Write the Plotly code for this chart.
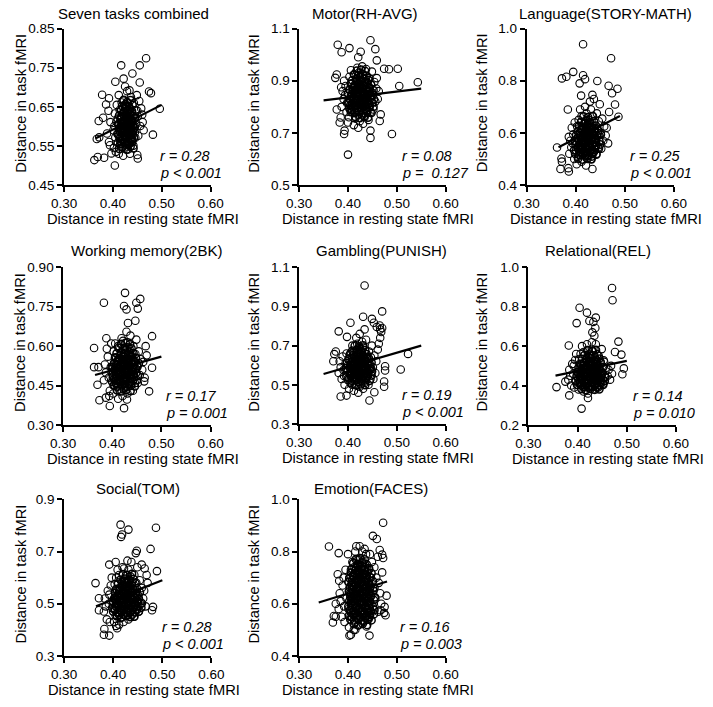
import plotly.graph_objects as go

W, H = 713, 707

titles = ["Seven tasks combined", "Motor(RH-AVG)", "Language(STORY-MATH)",
          "Working memory(2BK)", "Gambling(PUNISH)", "Relational(REL)",
          "Social(TOM)", "Emotion(FACES)"]
r_text = ["r = 0.28", "r = 0.08", "r = 0.25", "r = 0.17", "r = 0.19", "r = 0.14", "r = 0.28", "r = 0.16"]
p_text = ["p < 0.001", "p =\u00a0 0.127", "p < 0.001", "p = 0.001", "p < 0.001", "p = 0.010", "p < 0.001", "p = 0.003"]

x_ticks = [0.30, 0.40, 0.50, 0.60]
y_ticks = [
    [0.45, 0.55, 0.65, 0.75, 0.85],
    [0.5, 0.7, 0.9, 1.1],
    [0.4, 0.6, 0.8, 1.0],
    [0.30, 0.45, 0.60, 0.75, 0.90],
    [0.3, 0.5, 0.7, 0.9, 1.1],
    [0.2, 0.4, 0.6, 0.8, 1.0],
    [0.3, 0.5, 0.7, 0.9],
    [0.4, 0.6, 0.8, 1.0],
]
y_fmt = [".2f", ".1f", ".1f", ".2f", ".1f", ".1f", ".1f", ".1f"]

seven_pts = [
    (0.417,0.756),(0.468,0.774),(0.455,0.756),(0.440,0.735),(0.405,0.714),(0.422,0.722),(0.455,0.712),
    (0.378,0.681),(0.474,0.689),(0.478,0.685),(0.496,0.645),(0.482,0.579),(0.362,0.514),(0.369,0.522),
    (0.382,0.520),(0.404,0.500),(0.451,0.518),(0.450,0.527),(0.371,0.614),(0.380,0.622),(0.372,0.572),
    (0.367,0.568),(0.386,0.656),(0.392,0.672),
    (0.402,0.545),(0.405,0.572),(0.401,0.590),(0.407,0.612),(0.404,0.633),(0.408,0.655),(0.403,0.601),(0.409,0.581),(0.406,0.535),
    (0.412,0.530),(0.415,0.556),(0.413,0.575),(0.417,0.591),(0.411,0.606),(0.416,0.621),(0.414,0.642),(0.418,0.661),(0.412,0.680),(0.419,0.566),(0.414,0.598),
    (0.421,0.525),(0.424,0.546),(0.422,0.561),(0.427,0.578),(0.425,0.593),(0.421,0.608),(0.428,0.623),(0.423,0.637),(0.426,0.652),(0.422,0.668),(0.429,0.690),(0.425,0.702),(0.428,0.585),(0.424,0.615),
    (0.431,0.541),(0.434,0.556),(0.437,0.571),(0.432,0.586),(0.436,0.600),(0.433,0.613),(0.438,0.628),(0.435,0.645),(0.431,0.660),(0.437,0.675),(0.434,0.692),(0.439,0.565),(0.432,0.620),
    (0.442,0.551),(0.446,0.571),(0.441,0.590),(0.448,0.606),(0.444,0.622),(0.447,0.641),(0.443,0.660),(0.449,0.680),(0.445,0.600),
    (0.452,0.576),(0.456,0.601),(0.451,0.626),(0.458,0.646),(0.454,0.665),(0.461,0.611),(0.463,0.590),
    (0.392,0.560),(0.388,0.582),(0.395,0.611),(0.391,0.640),(0.397,0.531),(0.394,0.552),
    (0.426,0.600),(0.430,0.605),(0.420,0.585),(0.433,0.597),(0.427,0.570),(0.418,0.612),(0.440,0.612),(0.436,0.585),
    (0.423,0.628),(0.430,0.640),(0.419,0.548),(0.445,0.585),(0.410,0.620),(0.435,0.530),(0.450,0.640),(0.460,0.630),
]
seven_core = [
    (0.413,0.543),(0.420,0.547),(0.428,0.541),(0.436,0.549),(0.442,0.544),
    (0.410,0.558),(0.418,0.555),(0.425,0.559),(0.432,0.553),(0.439,0.560),
    (0.414,0.570),(0.421,0.567),(0.429,0.572),(0.436,0.566),(0.443,0.571),
    (0.411,0.580),(0.419,0.584),(0.426,0.579),(0.433,0.583),(0.440,0.578),
    (0.415,0.594),(0.422,0.590),(0.430,0.595),(0.437,0.591),(0.444,0.596),
    (0.412,0.604),(0.419,0.608),(0.427,0.603),(0.434,0.607),(0.441,0.602),
    (0.416,0.618),(0.423,0.614),(0.431,0.619),(0.438,0.615),(0.445,0.620),
    (0.413,0.628),(0.420,0.632),(0.428,0.627),(0.435,0.631),(0.442,0.626),
    (0.417,0.642),(0.424,0.638),(0.432,0.643),(0.439,0.639),
    (0.419,0.652),(0.426,0.656),(0.433,0.651),(0.440,0.655),
    (0.422,0.666),(0.429,0.662),(0.436,0.667),
    (0.416,0.562),(0.424,0.566),(0.432,0.561),(0.439,0.565),
    (0.418,0.575),(0.426,0.574),(0.434,0.577),(0.441,0.586),
    (0.415,0.587),(0.423,0.586),(0.431,0.589),(0.438,0.598),
    (0.417,0.600),(0.425,0.599),(0.433,0.602),(0.421,0.611),
    (0.429,0.612),(0.437,0.610),(0.418,0.624),(0.426,0.622),
    (0.434,0.625),(0.422,0.636),(0.430,0.634),(0.438,0.636),
    (0.425,0.646),(0.433,0.648),(0.428,0.556),(0.420,0.597),
]

motor_pts = [
    (0.400,0.617),(0.490,0.696),(0.446,0.681),(0.446,0.709),(0.392,0.696),(0.393,0.709),(0.379,1.038),
    (0.403,1.025),(0.387,1.009),(0.426,1.011),(0.446,1.055),(0.456,1.021),(0.459,0.978),(0.502,0.946),
    (0.543,0.894),(0.505,0.880),(0.377,0.924),(0.374,0.911),(0.377,0.790),(0.385,0.759),(0.383,0.740),
    (0.467,0.771),(0.465,0.746),(0.474,0.946),(0.484,0.944),(0.421,0.990),
    (0.387,0.80),(0.391,0.83),(0.389,0.86),(0.395,0.88),(0.392,0.90),(0.397,0.78),(0.394,0.845),(0.398,0.815),(0.386,0.875),
    (0.402,0.76),(0.405,0.79),(0.401,0.82),(0.407,0.84),(0.404,0.865),(0.408,0.89),(0.403,0.915),(0.406,0.94),(0.409,0.80),(0.400,0.74),
    (0.412,0.73),(0.415,0.755),(0.413,0.78),(0.417,0.805),(0.411,0.83),(0.416,0.85),(0.414,0.875),(0.418,0.90),(0.412,0.925),(0.419,0.95),(0.415,0.815),(0.417,0.865),
    (0.421,0.72),(0.424,0.745),(0.422,0.77),(0.427,0.795),(0.425,0.82),(0.421,0.84),(0.428,0.86),(0.423,0.88),(0.426,0.905),(0.422,0.93),(0.429,0.955),(0.425,0.85),(0.428,0.83),(0.424,0.87),
    (0.431,0.735),(0.434,0.76),(0.437,0.785),(0.432,0.81),(0.436,0.835),(0.433,0.855),(0.438,0.875),(0.435,0.895),(0.431,0.92),(0.437,0.945),(0.434,0.845),(0.439,0.82),
    (0.442,0.75),(0.446,0.78),(0.441,0.81),(0.448,0.835),(0.444,0.86),(0.447,0.885),(0.443,0.91),(0.449,0.935),(0.445,0.85),
    (0.452,0.79),(0.456,0.82),(0.451,0.845),(0.458,0.87),(0.454,0.895),(0.461,0.83),(0.463,0.86),(0.459,0.91),
]
motor_core = [
    (0.415,0.762),(0.424,0.757),(0.433,0.764),(0.441,0.759),
    (0.406,0.780),(0.414,0.776),(0.423,0.781),(0.431,0.775),(0.439,0.779),(0.448,0.777),
    (0.403,0.794),(0.411,0.799),(0.419,0.795),(0.428,0.798),(0.436,0.793),(0.444,0.797),(0.452,0.800),
    (0.401,0.815),(0.409,0.812),(0.417,0.816),(0.426,0.811),(0.434,0.817),(0.442,0.813),(0.450,0.816),
    (0.404,0.830),(0.412,0.834),(0.420,0.829),(0.429,0.835),(0.437,0.831),(0.445,0.833),(0.453,0.829),
    (0.400,0.851),(0.408,0.848),(0.416,0.853),(0.425,0.847),(0.433,0.852),(0.441,0.849),(0.449,0.854),
    (0.403,0.866),(0.411,0.870),(0.419,0.865),(0.428,0.871),(0.436,0.867),(0.444,0.869),(0.452,0.864),
    (0.406,0.887),(0.414,0.884),(0.422,0.889),(0.431,0.883),(0.439,0.888),(0.447,0.885),
    (0.409,0.902),(0.417,0.906),(0.425,0.901),(0.434,0.907),(0.442,0.903),
    (0.413,0.923),(0.421,0.920),(0.430,0.925),(0.438,0.919),
    (0.418,0.938),(0.427,0.942),(0.435,0.937),
    (0.408,0.788),(0.418,0.786),(0.428,0.789),(0.438,0.786),
    (0.405,0.806),(0.415,0.805),(0.425,0.807),(0.435,0.804),(0.444,0.806),
    (0.410,0.823),(0.420,0.824),(0.430,0.822),(0.440,0.825),
    (0.406,0.841),(0.416,0.840),(0.426,0.842),(0.436,0.840),(0.446,0.842),
    (0.410,0.859),(0.420,0.858),(0.430,0.860),(0.440,0.858),
    (0.413,0.877),(0.423,0.876),(0.433,0.878),(0.443,0.876),
    (0.418,0.895),(0.428,0.894),(0.438,0.896),(0.424,0.912),
]

language_pts = [
    (0.415,0.940),(0.472,0.886),(0.395,0.834),(0.372,0.809),(0.381,0.815),(0.415,0.821),(0.419,0.806),
    (0.408,0.790),(0.444,0.799),(0.467,0.781),(0.485,0.769),(0.434,0.746),(0.411,0.743),(0.474,0.752),
    (0.480,0.709),(0.384,0.690),(0.487,0.662),(0.369,0.462),(0.386,0.452),(0.385,0.465),(0.434,0.462),
    (0.362,0.544),(0.371,0.502),(0.372,0.490),
    (0.387,0.52),(0.391,0.545),(0.389,0.57),(0.395,0.595),(0.392,0.62),(0.397,0.50),(0.394,0.56),(0.398,0.64),(0.386,0.585),
    (0.402,0.48),(0.405,0.51),(0.401,0.535),(0.407,0.555),(0.404,0.58),(0.408,0.60),(0.403,0.625),(0.406,0.65),(0.409,0.69),(0.400,0.565),
    (0.412,0.49),(0.415,0.515),(0.413,0.54),(0.417,0.56),(0.411,0.575),(0.416,0.595),(0.414,0.615),(0.418,0.64),(0.412,0.665),(0.419,0.70),(0.415,0.585),(0.417,0.53),
    (0.421,0.475),(0.424,0.50),(0.422,0.525),(0.427,0.545),(0.425,0.565),(0.421,0.585),(0.428,0.605),(0.423,0.625),(0.426,0.65),(0.422,0.675),(0.429,0.72),(0.425,0.59),(0.428,0.555),(0.424,0.61),
    (0.431,0.50),(0.434,0.525),(0.437,0.55),(0.432,0.57),(0.436,0.595),(0.433,0.615),(0.438,0.64),(0.435,0.665),(0.431,0.69),(0.437,0.73),(0.434,0.58),(0.439,0.605),
    (0.442,0.52),(0.446,0.545),(0.441,0.565),(0.448,0.59),(0.444,0.615),(0.447,0.645),(0.443,0.675),(0.449,0.71),(0.445,0.60),
    (0.452,0.54),(0.456,0.57),(0.451,0.60),(0.458,0.625),(0.454,0.655),(0.461,0.59),(0.463,0.62),(0.466,0.56),(0.468,0.68),
]
language_core = [
    (0.405,0.502),(0.414,0.498),(0.423,0.503),(0.432,0.499),
    (0.399,0.520),(0.407,0.516),(0.416,0.521),(0.425,0.515),(0.434,0.519),(0.442,0.517),
    (0.397,0.534),(0.405,0.539),(0.413,0.535),(0.422,0.538),(0.431,0.533),(0.439,0.537),(0.447,0.540),
    (0.400,0.555),(0.408,0.552),(0.417,0.556),(0.426,0.551),(0.434,0.557),(0.442,0.553),(0.450,0.556),
    (0.398,0.570),(0.406,0.574),(0.415,0.569),(0.424,0.575),(0.432,0.571),(0.440,0.573),(0.448,0.569),
    (0.401,0.591),(0.409,0.588),(0.418,0.593),(0.427,0.587),(0.435,0.592),(0.443,0.589),(0.451,0.594),
    (0.404,0.606),(0.412,0.610),(0.421,0.605),(0.430,0.611),(0.438,0.607),(0.446,0.609),
    (0.407,0.627),(0.415,0.624),(0.424,0.629),(0.433,0.623),(0.441,0.628),
    (0.411,0.642),(0.420,0.646),(0.429,0.641),(0.437,0.645),
    (0.416,0.663),(0.425,0.660),(0.434,0.664),
    (0.408,0.527),(0.418,0.528),(0.428,0.526),(0.437,0.528),
    (0.404,0.546),(0.412,0.545),(0.421,0.547),(0.430,0.545),(0.440,0.546),
    (0.410,0.563),(0.419,0.564),(0.428,0.562),(0.437,0.564),
    (0.404,0.581),(0.413,0.580),(0.422,0.582),(0.431,0.580),(0.440,0.581),
    (0.408,0.599),(0.417,0.598),(0.426,0.600),(0.435,0.598),
    (0.412,0.617),(0.421,0.616),(0.430,0.618),(0.438,0.616),
    (0.418,0.634),(0.427,0.635),(0.423,0.512),(0.433,0.510),
]

wm_pts = [
    (0.426,0.803),(0.457,0.780),(0.449,0.765),(0.383,0.765),(0.424,0.753),(0.429,0.740),(0.452,0.743),
    (0.447,0.697),(0.432,0.688),(0.481,0.638),(0.363,0.593),(0.388,0.630),(0.372,0.520),(0.363,0.520),
    (0.370,0.453),(0.374,0.394),(0.395,0.372),(0.424,0.364),(0.430,0.397),(0.481,0.518),(0.475,0.428),
    (0.387,0.404),(0.465,0.466),
    (0.383,0.47),(0.387,0.50),(0.385,0.53),(0.391,0.56),(0.389,0.59),(0.395,0.43),(0.393,0.48),(0.397,0.52),(0.398,0.61),(0.394,0.41),
    (0.402,0.42),(0.405,0.45),(0.401,0.48),(0.407,0.50),(0.404,0.53),(0.408,0.555),(0.403,0.58),(0.406,0.61),(0.409,0.46),(0.400,0.515),
    (0.412,0.40),(0.415,0.43),(0.413,0.455),(0.417,0.48),(0.411,0.505),(0.416,0.525),(0.414,0.55),(0.418,0.575),(0.412,0.60),(0.419,0.63),(0.415,0.515),(0.417,0.465),
    (0.421,0.41),(0.424,0.44),(0.422,0.465),(0.427,0.49),(0.425,0.51),(0.421,0.53),(0.428,0.55),(0.423,0.57),(0.426,0.595),(0.422,0.62),(0.429,0.655),(0.425,0.525),(0.428,0.47),(0.424,0.545),
    (0.431,0.42),(0.434,0.45),(0.437,0.475),(0.432,0.50),(0.436,0.52),(0.433,0.545),(0.438,0.565),(0.435,0.59),(0.431,0.615),(0.437,0.64),(0.434,0.505),(0.439,0.535),
    (0.442,0.43),(0.446,0.46),(0.441,0.49),(0.448,0.515),(0.444,0.54),(0.447,0.57),(0.443,0.60),(0.449,0.625),(0.445,0.52),
    (0.452,0.46),(0.456,0.49),(0.451,0.52),(0.458,0.55),(0.454,0.58),(0.461,0.51),(0.463,0.54),(0.466,0.48),(0.468,0.60),(0.470,0.565),
]
wm_core = [
    (0.410,0.432),(0.419,0.428),(0.428,0.433),(0.437,0.429),
    (0.403,0.450),(0.411,0.446),(0.420,0.451),(0.429,0.445),(0.438,0.449),(0.446,0.447),
    (0.400,0.464),(0.408,0.469),(0.416,0.465),(0.425,0.468),(0.434,0.463),(0.442,0.467),(0.450,0.470),
    (0.402,0.485),(0.410,0.482),(0.419,0.486),(0.428,0.481),(0.436,0.487),(0.444,0.483),(0.452,0.486),
    (0.399,0.500),(0.407,0.504),(0.416,0.499),(0.425,0.505),(0.433,0.501),(0.441,0.503),(0.449,0.499),
    (0.401,0.521),(0.409,0.518),(0.418,0.523),(0.427,0.517),(0.435,0.522),(0.443,0.519),(0.451,0.524),
    (0.404,0.536),(0.412,0.540),(0.421,0.535),(0.430,0.541),(0.438,0.537),(0.446,0.539),(0.454,0.535),
    (0.406,0.557),(0.414,0.554),(0.423,0.559),(0.432,0.553),(0.440,0.558),(0.448,0.555),
    (0.409,0.572),(0.418,0.576),(0.427,0.571),(0.435,0.575),(0.443,0.573),
    (0.413,0.593),(0.422,0.590),(0.431,0.595),(0.439,0.591),
    (0.418,0.608),(0.427,0.612),(0.436,0.607),
    (0.408,0.457),(0.417,0.458),(0.426,0.456),(0.435,0.458),
    (0.404,0.475),(0.413,0.474),(0.422,0.476),(0.431,0.474),(0.440,0.476),
    (0.408,0.493),(0.417,0.494),(0.426,0.492),(0.435,0.494),(0.444,0.492),
    (0.405,0.511),(0.414,0.510),(0.423,0.512),(0.432,0.510),(0.441,0.512),
    (0.408,0.529),(0.417,0.528),(0.426,0.530),(0.435,0.528),(0.444,0.530),
    (0.412,0.547),(0.421,0.546),(0.430,0.548),(0.439,0.546),
    (0.418,0.565),(0.427,0.564),(0.436,0.566),
]

gambling_pts = [
    (0.434,1.007),(0.470,0.875),(0.431,0.848),(0.449,0.837),(0.453,0.817),(0.405,0.817),(0.381,0.773),
    (0.398,0.745),(0.459,0.795),(0.466,0.783),(0.465,0.803),(0.434,0.783),(0.523,0.658),(0.508,0.578),
    (0.476,0.595),(0.476,0.573),(0.474,0.517),(0.474,0.490),(0.385,0.440),(0.397,0.445),(0.444,0.420),
    (0.454,0.462),(0.370,0.620),(0.372,0.657),(0.375,0.670),
    (0.381,0.56),(0.385,0.59),(0.383,0.62),(0.389,0.645),(0.387,0.53),(0.393,0.50),(0.391,0.575),(0.395,0.61),(0.397,0.66),(0.392,0.545),
    (0.402,0.48),(0.405,0.51),(0.401,0.535),(0.407,0.56),(0.404,0.585),(0.408,0.61),(0.403,0.635),(0.406,0.665),(0.409,0.70),(0.400,0.60),
    (0.412,0.47),(0.415,0.50),(0.413,0.525),(0.417,0.55),(0.411,0.575),(0.416,0.595),(0.414,0.62),(0.418,0.645),(0.412,0.67),(0.419,0.71),(0.415,0.585),(0.417,0.74),
    (0.421,0.46),(0.424,0.49),(0.422,0.515),(0.427,0.54),(0.425,0.565),(0.421,0.59),(0.428,0.61),(0.423,0.63),(0.426,0.655),(0.422,0.68),(0.429,0.72),(0.425,0.60),(0.428,0.575),(0.424,0.76),
    (0.431,0.48),(0.434,0.51),(0.437,0.535),(0.432,0.56),(0.436,0.585),(0.433,0.61),(0.438,0.635),(0.435,0.66),(0.431,0.69),(0.437,0.73),(0.434,0.595),(0.439,0.57),
    (0.442,0.50),(0.446,0.53),(0.441,0.555),(0.448,0.58),(0.444,0.61),(0.447,0.64),(0.443,0.67),(0.449,0.70),(0.445,0.595),
    (0.452,0.53),(0.456,0.56),(0.451,0.59),(0.458,0.62),(0.454,0.65),(0.461,0.68),(0.463,0.71),(0.466,0.74),(0.468,0.77),(0.470,0.79),
]
gambling_core = [
    (0.408,0.502),(0.417,0.497),(0.426,0.503),(0.435,0.499),
    (0.400,0.524),(0.409,0.520),(0.418,0.525),(0.427,0.519),(0.436,0.523),(0.444,0.521),
    (0.397,0.542),(0.405,0.547),(0.414,0.543),(0.423,0.546),(0.432,0.541),(0.440,0.545),(0.448,0.548),
    (0.399,0.567),(0.407,0.564),(0.416,0.568),(0.425,0.563),(0.433,0.569),(0.441,0.565),(0.449,0.568),
    (0.396,0.586),(0.404,0.590),(0.413,0.585),(0.422,0.591),(0.430,0.587),(0.438,0.589),(0.446,0.585),
    (0.398,0.611),(0.406,0.608),(0.415,0.613),(0.424,0.607),(0.432,0.612),(0.440,0.609),(0.448,0.614),
    (0.401,0.630),(0.409,0.634),(0.418,0.629),(0.427,0.635),(0.435,0.631),(0.443,0.633),
    (0.404,0.655),(0.412,0.652),(0.421,0.657),(0.430,0.651),(0.438,0.656),
    (0.409,0.674),(0.418,0.678),(0.427,0.673),(0.435,0.677),
    (0.414,0.699),(0.423,0.696),(0.431,0.701),
    (0.410,0.533),(0.419,0.534),(0.428,0.532),(0.437,0.534),
    (0.405,0.555),(0.414,0.554),(0.423,0.556),(0.432,0.554),(0.441,0.556),
    (0.409,0.577),(0.418,0.578),(0.427,0.576),(0.436,0.578),(0.444,0.576),
    (0.405,0.599),(0.414,0.598),(0.423,0.600),(0.432,0.598),(0.441,0.600),
    (0.409,0.621),(0.418,0.620),(0.427,0.622),(0.436,0.620),
    (0.413,0.643),(0.422,0.642),(0.431,0.644),(0.439,0.642),
    (0.418,0.665),(0.427,0.664),(0.423,0.687),
]

relational_pts = [
    (0.470,0.895),(0.471,0.833),(0.404,0.795),(0.419,0.770),(0.398,0.717),(0.424,0.728),(0.437,0.745),
    (0.432,0.723),(0.436,0.692),(0.430,0.670),(0.434,0.653),(0.483,0.623),(0.489,0.557),(0.476,0.570),
    (0.494,0.487),(0.491,0.457),(0.357,0.392),(0.383,0.350),(0.408,0.283),(0.421,0.337),(0.382,0.603),
    (0.453,0.528),(0.375,0.420),
    (0.381,0.43),(0.385,0.45),(0.383,0.48),(0.389,0.51),(0.387,0.40),(0.393,0.39),(0.391,0.46),(0.395,0.53),(0.397,0.56),(0.392,0.50),
    (0.402,0.38),(0.405,0.41),(0.401,0.435),(0.407,0.46),(0.404,0.485),(0.408,0.51),(0.403,0.535),(0.406,0.56),(0.409,0.60),(0.400,0.47),
    (0.412,0.37),(0.415,0.395),(0.413,0.42),(0.417,0.445),(0.411,0.465),(0.416,0.49),(0.414,0.515),(0.418,0.54),(0.412,0.57),(0.419,0.61),(0.415,0.48),(0.417,0.43),
    (0.421,0.36),(0.424,0.39),(0.422,0.415),(0.427,0.44),(0.425,0.46),(0.421,0.48),(0.428,0.50),(0.423,0.525),(0.426,0.55),(0.422,0.58),(0.429,0.62),(0.425,0.47),(0.428,0.43),(0.424,0.51),
    (0.431,0.38),(0.434,0.40),(0.437,0.425),(0.432,0.45),(0.436,0.47),(0.433,0.495),(0.438,0.52),(0.435,0.545),(0.431,0.575),(0.437,0.61),(0.434,0.46),(0.439,0.49),
    (0.442,0.39),(0.446,0.42),(0.441,0.445),(0.448,0.47),(0.444,0.495),(0.447,0.52),(0.443,0.55),(0.449,0.585),(0.445,0.46),
    (0.452,0.41),(0.456,0.44),(0.451,0.465),(0.458,0.49),(0.454,0.52),(0.461,0.45),(0.463,0.48),(0.466,0.43),(0.468,0.50),(0.470,0.46),
]
relational_core = [
    (0.408,0.382),(0.417,0.377),(0.426,0.383),(0.435,0.379),(0.444,0.381),
    (0.399,0.404),(0.408,0.400),(0.417,0.405),(0.426,0.399),(0.435,0.403),(0.444,0.401),(0.452,0.404),
    (0.396,0.422),(0.404,0.427),(0.413,0.423),(0.422,0.426),(0.431,0.421),(0.439,0.425),(0.447,0.428),(0.455,0.423),
    (0.398,0.447),(0.406,0.444),(0.415,0.448),(0.424,0.443),(0.432,0.449),(0.440,0.445),(0.448,0.448),(0.456,0.444),
    (0.400,0.466),(0.408,0.470),(0.417,0.465),(0.426,0.471),(0.434,0.467),(0.442,0.469),(0.450,0.465),
    (0.402,0.491),(0.410,0.488),(0.419,0.493),(0.428,0.487),(0.436,0.492),(0.444,0.489),(0.452,0.494),
    (0.405,0.510),(0.413,0.514),(0.422,0.509),(0.431,0.515),(0.439,0.511),(0.447,0.513),
    (0.409,0.535),(0.418,0.532),(0.427,0.537),(0.436,0.531),(0.444,0.536),
    (0.414,0.554),(0.423,0.558),(0.432,0.553),(0.440,0.557),
    (0.420,0.579),(0.429,0.576),(0.437,0.581),
    (0.412,0.392),(0.421,0.391),(0.430,0.393),(0.439,0.391),
    (0.404,0.413),(0.413,0.414),(0.422,0.412),(0.431,0.414),(0.440,0.412),(0.448,0.414),
    (0.409,0.435),(0.418,0.434),(0.427,0.436),(0.436,0.434),(0.445,0.436),
    (0.404,0.457),(0.413,0.456),(0.422,0.458),(0.431,0.456),(0.440,0.458),(0.449,0.456),
    (0.408,0.479),(0.417,0.480),(0.426,0.478),(0.435,0.480),(0.444,0.478),
    (0.412,0.501),(0.421,0.500),(0.430,0.502),(0.439,0.500),
    (0.418,0.523),(0.427,0.522),(0.435,0.524),
]

social_pts = [
    (0.415,0.803),(0.431,0.784),(0.487,0.791),(0.418,0.765),(0.416,0.756),(0.476,0.710),(0.448,0.703),
    (0.446,0.694),(0.489,0.625),(0.364,0.579),(0.371,0.521),(0.371,0.475),(0.382,0.403),(0.381,0.381),
    (0.392,0.378),(0.406,0.415),(0.408,0.406),(0.481,0.488),(0.479,0.475),(0.392,0.650),(0.405,0.660),
    (0.458,0.650),(0.464,0.635),
    (0.381,0.47),(0.385,0.49),(0.383,0.52),(0.389,0.55),(0.387,0.44),(0.393,0.43),(0.391,0.50),(0.395,0.57),(0.397,0.60),(0.392,0.535),
    (0.402,0.43),(0.405,0.455),(0.401,0.48),(0.407,0.50),(0.404,0.525),(0.408,0.55),(0.403,0.575),(0.406,0.60),(0.409,0.63),(0.400,0.51),
    (0.412,0.42),(0.415,0.445),(0.413,0.465),(0.417,0.49),(0.411,0.51),(0.416,0.53),(0.414,0.555),(0.418,0.58),(0.412,0.61),(0.419,0.64),(0.415,0.52),(0.417,0.475),
    (0.421,0.43),(0.424,0.455),(0.422,0.48),(0.427,0.50),(0.425,0.52),(0.421,0.54),(0.428,0.56),(0.423,0.585),(0.426,0.61),(0.422,0.635),(0.429,0.665),(0.425,0.53),(0.428,0.47),(0.424,0.55),
    (0.431,0.44),(0.434,0.465),(0.437,0.49),(0.432,0.51),(0.436,0.53),(0.433,0.555),(0.438,0.58),(0.435,0.605),(0.431,0.63),(0.437,0.66),(0.434,0.52),(0.439,0.545),
    (0.442,0.45),(0.446,0.48),(0.441,0.505),(0.448,0.53),(0.444,0.555),(0.447,0.58),(0.443,0.61),(0.449,0.64),(0.445,0.52),
    (0.452,0.47),(0.456,0.50),(0.451,0.53),(0.458,0.56),(0.454,0.59),(0.461,0.52),(0.463,0.55),(0.466,0.49),(0.468,0.61),(0.470,0.58),
]
social_core = [
    (0.408,0.452),(0.417,0.448),(0.426,0.453),(0.435,0.449),(0.443,0.451),
    (0.400,0.470),(0.409,0.466),(0.418,0.471),(0.427,0.465),(0.436,0.469),(0.444,0.467),(0.452,0.470),
    (0.398,0.484),(0.406,0.489),(0.415,0.485),(0.424,0.488),(0.433,0.483),(0.441,0.487),(0.449,0.490),(0.457,0.485),
    (0.400,0.505),(0.408,0.502),(0.417,0.506),(0.426,0.501),(0.434,0.507),(0.442,0.503),(0.450,0.506),(0.458,0.502),
    (0.402,0.520),(0.410,0.524),(0.419,0.519),(0.428,0.525),(0.436,0.521),(0.444,0.523),(0.452,0.519),
    (0.404,0.541),(0.412,0.538),(0.421,0.543),(0.430,0.537),(0.438,0.542),(0.446,0.539),(0.454,0.544),
    (0.406,0.556),(0.414,0.560),(0.423,0.555),(0.432,0.561),(0.440,0.557),(0.448,0.559),
    (0.410,0.577),(0.419,0.574),(0.428,0.579),(0.437,0.573),(0.445,0.578),
    (0.415,0.592),(0.424,0.596),(0.433,0.591),(0.441,0.595),
    (0.420,0.613),(0.429,0.610),(0.438,0.614),
    (0.412,0.458),(0.421,0.459),(0.430,0.457),(0.439,0.459),
    (0.404,0.477),(0.413,0.476),(0.422,0.478),(0.431,0.476),(0.440,0.478),(0.448,0.476),
    (0.409,0.495),(0.418,0.494),(0.427,0.496),(0.436,0.494),(0.445,0.496),
    (0.405,0.513),(0.414,0.512),(0.423,0.514),(0.432,0.512),(0.441,0.514),(0.449,0.512),
    (0.409,0.531),(0.418,0.530),(0.427,0.532),(0.436,0.530),(0.444,0.532),
    (0.412,0.549),(0.421,0.548),(0.430,0.550),(0.439,0.548),
    (0.417,0.567),(0.426,0.566),(0.434,0.568),(0.422,0.585),(0.431,0.586),
]

emotion_pts = [
    (0.472,0.910),(0.451,0.860),(0.459,0.848),(0.361,0.819),(0.381,0.794),(0.465,0.806),(0.470,0.788),
    (0.472,0.775),(0.479,0.631),(0.475,0.588),(0.467,0.575),(0.474,0.565),(0.477,0.556),(0.462,0.569),
    (0.444,0.478),(0.403,0.478),(0.406,0.481),(0.369,0.528),(0.371,0.553),(0.375,0.550),(0.379,0.713),
    (0.382,0.688),(0.375,0.600),(0.415,0.500),(0.438,0.513),
    (0.381,0.58),(0.385,0.61),(0.383,0.64),(0.389,0.67),(0.387,0.55),(0.393,0.53),(0.391,0.70),(0.395,0.73),(0.397,0.62),(0.392,0.59),
    (0.402,0.51),(0.405,0.55),(0.401,0.58),(0.407,0.61),(0.404,0.64),(0.408,0.67),(0.403,0.70),(0.406,0.73),(0.409,0.76),(0.400,0.79),
    (0.412,0.50),(0.415,0.53),(0.413,0.56),(0.417,0.59),(0.411,0.62),(0.416,0.65),(0.414,0.68),(0.418,0.71),(0.412,0.74),(0.419,0.77),(0.415,0.80),(0.417,0.82),
    (0.421,0.52),(0.424,0.55),(0.422,0.58),(0.427,0.61),(0.425,0.635),(0.421,0.66),(0.428,0.685),(0.423,0.71),(0.426,0.74),(0.422,0.77),(0.429,0.80),(0.425,0.65),(0.428,0.57),(0.424,0.82),
    (0.431,0.53),(0.434,0.56),(0.437,0.59),(0.432,0.62),(0.436,0.645),(0.433,0.67),(0.438,0.70),(0.435,0.73),(0.431,0.76),(0.437,0.79),(0.434,0.81),(0.439,0.65),
    (0.442,0.54),(0.446,0.57),(0.441,0.61),(0.448,0.64),(0.444,0.67),(0.447,0.70),(0.443,0.73),(0.449,0.76),(0.445,0.79),
    (0.452,0.58),(0.456,0.62),(0.451,0.66),(0.458,0.70),(0.454,0.74),(0.461,0.78),(0.463,0.68),(0.466,0.64),(0.468,0.60),(0.470,0.72),
]
emotion_core = [
    (0.412,0.522),(0.421,0.517),(0.430,0.523),(0.439,0.519),
    (0.405,0.540),(0.413,0.536),(0.422,0.541),(0.431,0.535),(0.440,0.539),(0.448,0.537),
    (0.402,0.554),(0.410,0.559),(0.419,0.555),(0.428,0.558),(0.437,0.553),(0.445,0.557),(0.453,0.560),
    (0.404,0.575),(0.412,0.572),(0.421,0.576),(0.430,0.571),(0.438,0.577),(0.446,0.573),(0.454,0.576),
    (0.401,0.590),(0.409,0.594),(0.418,0.589),(0.427,0.595),(0.435,0.591),(0.443,0.593),(0.451,0.589),
    (0.403,0.611),(0.411,0.608),(0.420,0.613),(0.429,0.607),(0.437,0.612),(0.445,0.609),(0.453,0.614),
    (0.405,0.626),(0.413,0.630),(0.422,0.625),(0.431,0.631),(0.439,0.627),(0.447,0.629),(0.455,0.625),
    (0.402,0.647),(0.410,0.644),(0.419,0.649),(0.428,0.643),(0.436,0.648),(0.444,0.645),(0.452,0.650),
    (0.404,0.662),(0.412,0.666),(0.421,0.661),(0.430,0.667),(0.438,0.663),(0.446,0.665),(0.454,0.661),
    (0.401,0.683),(0.409,0.680),(0.418,0.685),(0.427,0.679),(0.435,0.684),(0.443,0.681),(0.451,0.686),
    (0.403,0.698),(0.411,0.702),(0.420,0.697),(0.429,0.703),(0.437,0.699),(0.445,0.701),
    (0.406,0.719),(0.414,0.716),(0.423,0.721),(0.432,0.715),(0.440,0.720),(0.448,0.717),
    (0.408,0.734),(0.417,0.738),(0.426,0.733),(0.435,0.739),(0.443,0.735),
    (0.411,0.755),(0.420,0.752),(0.429,0.757),(0.438,0.751),
    (0.416,0.770),(0.425,0.774),(0.434,0.769),
    (0.408,0.548),(0.417,0.547),(0.426,0.549),(0.435,0.547),(0.444,0.549),
    (0.406,0.566),(0.415,0.565),(0.424,0.567),(0.433,0.565),(0.442,0.567),
    (0.408,0.584),(0.417,0.583),(0.426,0.585),(0.435,0.583),(0.444,0.585),
    (0.406,0.602),(0.415,0.601),(0.424,0.603),(0.433,0.601),(0.442,0.603),
    (0.408,0.620),(0.417,0.619),(0.426,0.621),(0.435,0.619),(0.444,0.621),
    (0.406,0.638),(0.415,0.637),(0.424,0.639),(0.433,0.637),(0.442,0.639),
    (0.408,0.656),(0.417,0.655),(0.426,0.657),(0.435,0.655),(0.444,0.657),
    (0.407,0.674),(0.416,0.673),(0.425,0.675),(0.434,0.673),(0.443,0.675),
    (0.409,0.692),(0.418,0.691),(0.427,0.693),(0.436,0.691),
    (0.411,0.710),(0.420,0.709),(0.429,0.711),(0.438,0.709),
    (0.415,0.728),(0.424,0.727),(0.433,0.729),(0.420,0.746),(0.429,0.745),
]

fit_x = [[0.365, 0.500], [0.350, 0.550], [0.365, 0.490], [0.365, 0.500],
         [0.350, 0.550], [0.355, 0.500], [0.365, 0.500], [0.340, 0.480]]
fit_y = [[0.570, 0.655], [0.825, 0.870], [0.545, 0.665], [0.490, 0.560],
         [0.555, 0.700], [0.450, 0.525], [0.490, 0.590], [0.605, 0.685]]

spread_sets = [seven_pts, motor_pts, language_pts, wm_pts, gambling_pts, relational_pts, social_pts, emotion_pts]
core_sets = [seven_core, motor_core, language_core, wm_core, gambling_core, relational_core, social_core, emotion_core]

# layout geometry (pixels): x0, x1, y_top, y_bottom
boxes = [(53, 205, 22, 182), (297, 449, 22, 182), (533, 686, 22, 182),
         (52, 205, 266, 427), (297, 449, 266, 426), (535, 688, 266, 427),
         (53, 206, 503, 663), (297, 449, 503, 663)]
title_pos = [(125, 7), (365, 7), (615, 7), (139, 249), (382, 249), (607, 249), (130, 492), (372, 492)]
ytitle_x = [8, 250, 487, 8, 250, 487, 8, 250]
stat_x = [151, 402, 638, 157, 402, 641, 153, 400]

FONT = "Liberation Sans, Arial, sans-serif"

def px(x):
    return x / W

def py(y):
    return 1 - y / H

fig = go.Figure()
layout = dict(width=W, height=H, margin=dict(l=0, r=0, t=0, b=0),
              paper_bgcolor="white", plot_bgcolor="white", showlegend=False,
              font=dict(family=FONT, size=13.5, color="black"))
annotations = []

for i in range(len(spread_sets)):
    n = "" if i == 0 else str(i + 1)
    for pts, lw in ((spread_sets[i], 1.1), (core_sets[i], 1.5)):
        fig.add_trace(go.Scatter(x=[p[0] for p in pts], y=[p[1] for p in pts], mode="markers",
                                 xaxis="x" + n, yaxis="y" + n,
                                 marker=dict(symbol="circle-open", size=7.5, color="black",
                                             line=dict(width=lw, color="black")),
                                 cliponaxis=False))
    fig.add_trace(go.Scatter(x=fit_x[i], y=fit_y[i], mode="lines", xaxis="x" + n, yaxis="y" + n,
                             line=dict(color="black", width=2.2)))
    x0, x1, yt, yb = boxes[i]
    yt_vals = y_ticks[i]
    axis_common = dict(showline=True, linecolor="black", linewidth=1.5, ticks="outside",
                       ticklen=5, tickwidth=1.5, tickcolor="black", showgrid=False,
                       zeroline=False, tickfont=dict(family=FONT, size=13.5, color="black"))
    layout["xaxis" + n] = dict(domain=[px(x0), px(x1)], range=[x_ticks[0], x_ticks[-1]],
                               tickvals=x_ticks, tickformat=".2f", anchor="y" + n, **axis_common)
    layout["yaxis" + n] = dict(domain=[py(yb), py(yt)], range=[yt_vals[0], yt_vals[-1]],
                               tickvals=yt_vals, tickformat=y_fmt[i], anchor="x" + n, **axis_common)
    tx, ty = title_pos[i]
    annotations.append(dict(text=titles[i], x=px(tx), y=py(ty), xref="paper", yref="paper",
                            xanchor="center", yanchor="middle", showarrow=False,
                            font=dict(family=FONT, size=15, color="black")))
    annotations.append(dict(text="Distance in resting state fMRI", x=px((x0 + x1) / 2 + 6),
                            y=py(yb + 35), xref="paper", yref="paper", xanchor="center",
                            yanchor="middle", showarrow=False,
                            font=dict(family=FONT, size=14.7, color="black")))
    annotations.append(dict(text="Distance in task fMRI", x=px(ytitle_x[i]), y=py((yt + yb) / 2 - 4),
                            xref="paper", yref="paper", xanchor="center", yanchor="middle",
                            textangle=-90, showarrow=False,
                            font=dict(family=FONT, size=14.7, color="black")))
    annotations.append(dict(text="<i>" + r_text[i] + "</i>", x=px(stat_x[i]), y=py(yb - 30),
                            xref="paper", yref="paper", xanchor="left", yanchor="middle",
                            showarrow=False, font=dict(family=FONT, size=14.5, color="black")))
    annotations.append(dict(text="<i>" + p_text[i] + "</i>", x=px(stat_x[i]), y=py(yb - 12),
                            xref="paper", yref="paper", xanchor="left", yanchor="middle",
                            showarrow=False, font=dict(family=FONT, size=14.5, color="black")))

layout["annotations"] = annotations
fig.update_layout(**layout)
fig.write_html(
    "out.html",
    config={"displayModeBar": False},
    post_script=("document.documentElement.style.margin='0';document.body.style.margin='0';"
                 "document.documentElement.style.overflow='hidden';document.body.style.overflow='hidden';"),
)
